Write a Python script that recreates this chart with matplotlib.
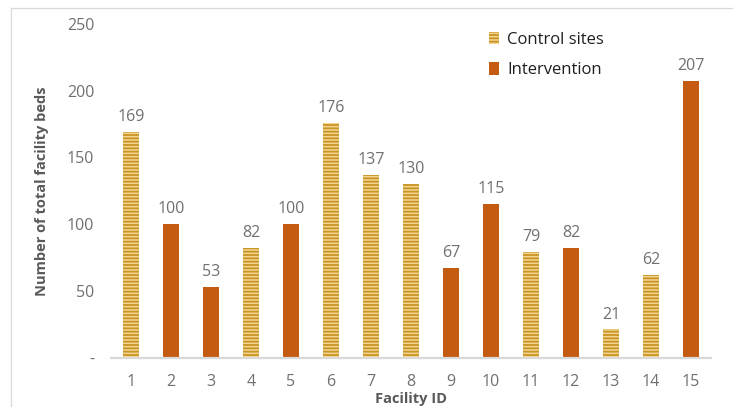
import matplotlib
matplotlib.use("Agg")
import matplotlib.pyplot as plt
from matplotlib.patches import Patch
from matplotlib.lines import Line2D

# Facility bed counts by facility and study arm
facility_ids = list(range(1, 16))
beds = [169, 100, 53, 82, 100, 176, 137, 130, 67, 115, 79, 82, 21, 62, 207]
arms = ["Control sites", "Intervention", "Intervention", "Control sites", "Intervention",
        "Control sites", "Control sites", "Control sites", "Intervention", "Intervention",
        "Control sites", "Intervention", "Control sites", "Control sites", "Intervention"]
y_ticks = [0, 50, 100, 150, 200, 250]
y_tick_labels = ["-", "50", "100", "150", "200", "250"]

plt.rcParams["font.family"] = ["Open Sans", "DejaVu Sans"]
plt.rcParams["hatch.linewidth"] = 1.3

CTRL_FACE = "#F4D590"
CTRL_HATCH = "#C99426"
INT_COLOR = "#C55A11"
TEXT_GRAY = "#707070"

fig = plt.figure(figsize=(7.33, 4.07), dpi=100)
ax = fig.add_axes([0.1514, 0.1216, 0.8186, 0.8194])

for fid, val, arm in zip(facility_ids, beds, arms):
    if arm == "Control sites":
        ax.bar(fid, val, width=0.4, facecolor=CTRL_FACE, edgecolor=CTRL_HATCH,
               linewidth=0, hatch="-----")
    else:
        ax.bar(fid, val, width=0.4, color=INT_COLOR, linewidth=0)
    ax.annotate(f"{val}", (fid, val), xytext=(0, 5), textcoords="offset points",
                ha="center", va="bottom", fontsize=11.5, color=TEXT_GRAY)

ax.set_xlim(0.5, 15.5)
ax.set_ylim(0, 250)
ax.set_xticks(facility_ids)
ax.set_xticklabels([str(i) for i in facility_ids])
ax.set_yticks(y_ticks)
ax.set_yticklabels(y_tick_labels)
ax.tick_params(axis="both", length=0, labelsize=11.5, labelcolor=TEXT_GRAY)
ax.tick_params(axis="x", pad=12)
ax.tick_params(axis="y", pad=12)

for side in ("left", "right", "top"):
    ax.spines[side].set_visible(False)
ax.spines["bottom"].set_color("#D9D9D9")
ax.spines["bottom"].set_linewidth(1.6)

ax.set_xlabel("Facility ID", fontsize=10.5, fontweight="bold", color="#595959", labelpad=1)
ax.set_ylabel("Number of total facility beds", fontsize=10.5, fontweight="bold",
              color="#595959", labelpad=13)

handles = [
    Patch(facecolor=CTRL_FACE, edgecolor=CTRL_HATCH, linewidth=0, hatch="-----",
          label="Control sites"),
    Patch(facecolor=INT_COLOR, linewidth=0, label="Intervention"),
]
leg = ax.legend(handles=handles, loc="upper left", bbox_to_anchor=(0.605, 1.022),
                frameon=False, fontsize=12, handlelength=0.6, handleheight=0.8,
                handletextpad=0.5, labelspacing=0.85)
for t in leg.get_texts():
    t.set_color("#1F1F1F")

# Chart area border
fig.add_artist(Line2D([11 / 733, 11 / 733], [0, 1 - 8 / 407], transform=fig.transFigure,
                      color="#D9D9D9", linewidth=0.9))
fig.add_artist(Line2D([11 / 733, 1], [1 - 8 / 407, 1 - 8 / 407], transform=fig.transFigure,
                      color="#D9D9D9", linewidth=0.9))

fig.savefig("out.png", dpi=100)
